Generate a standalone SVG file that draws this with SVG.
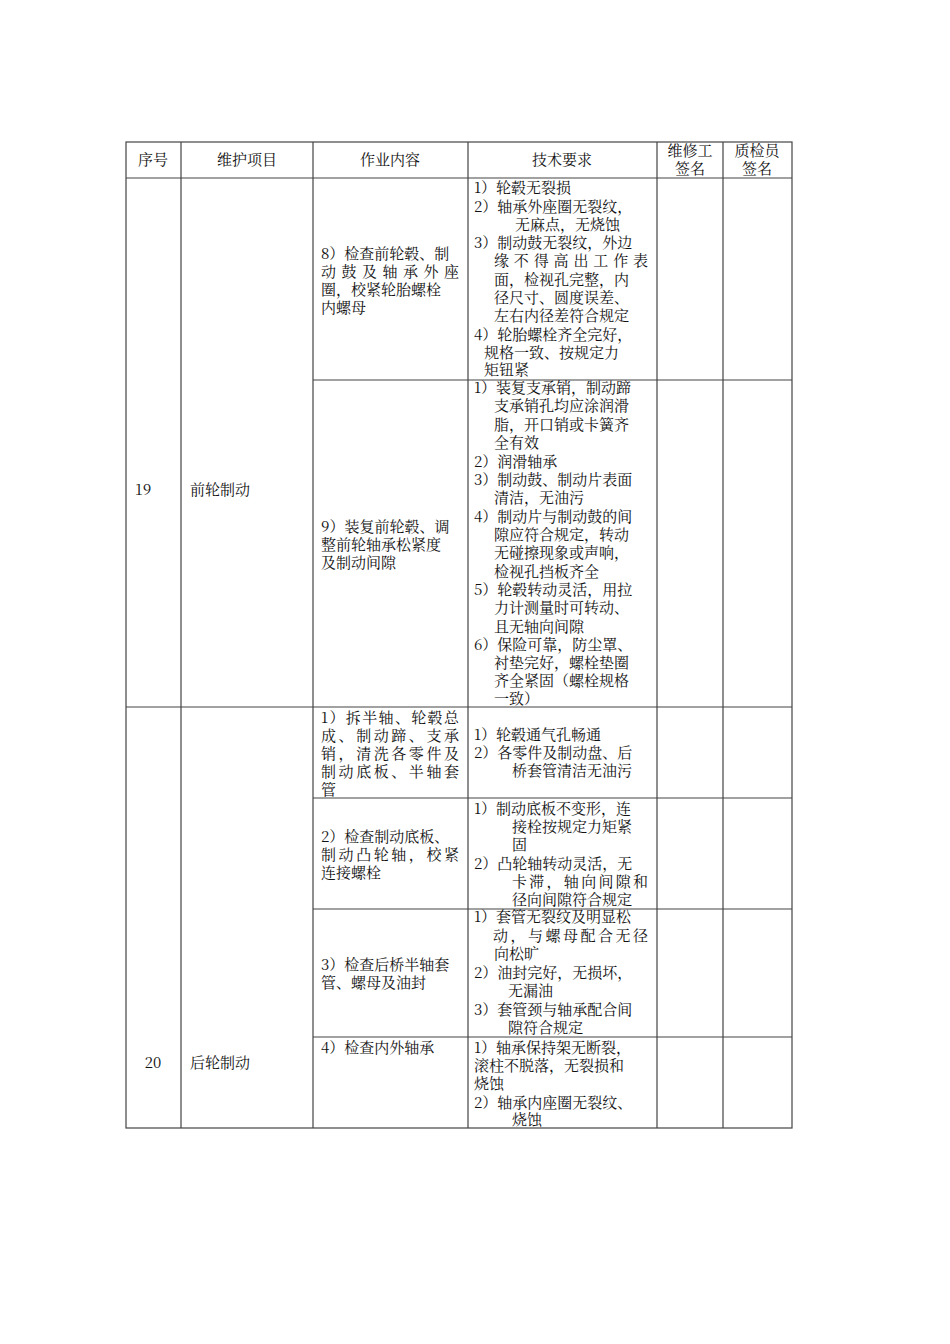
<svg xmlns="http://www.w3.org/2000/svg" width="950" height="1344" viewBox="0 0 950 1344">
<style>
text{font-family:"Noto Serif CJK SC","Noto Sans CJK SC","Liberation Serif",serif;font-size:15px;fill:#111}
.c{text-anchor:middle}
.ln{stroke:#444;stroke-width:1.2;fill:none}
</style>
<rect width="950" height="1344" fill="#fff"/>
<g id="grid" class="ln">
<rect x="126" y="142" width="666" height="986"/>
<path d="M126 178H792M313 380H792M126 707H792M313 798H792M313 909H792M313 1037H792"/>
<path d="M181 142V1128M313 142V1128M468 142V1128M657 142V1128M723 142V1128"/>
</g>
<g id="header">
<text class="c" x="153" y="165">序号</text>
<text class="c" x="247" y="165">维护项目</text>
<text class="c" x="390" y="165">作业内容</text>
<text class="c" x="562" y="165">技术要求</text>
<text class="c" x="690" y="156">维修工</text><text class="c" x="690" y="174">签名</text>
<text class="c" x="757" y="156">质检员</text><text class="c" x="757" y="174">签名</text>
</g>
<g id="row19">
<text class="c" x="143" y="495">19</text>
<text x="190" y="495">前轮制动</text>
<text x="321" y="259">8）检查前轮毂、制</text>
<text x="321" y="277" textLength="138" lengthAdjust="spacing">动鼓及轴承外座</text>
<text x="321" y="295">圈，校紧轮胎螺栓</text>
<text x="321" y="313">内螺母</text>
<text x="474" y="193">1）轮毂无裂损</text>
<text x="474" y="212">2）轴承外座圈无裂纹，</text>
<text x="515" y="230">无麻点，无烧蚀</text>
<text x="474" y="248">3）制动鼓无裂纹，外边</text>
<text x="494" y="266" textLength="154" lengthAdjust="spacing">缘不得高出工作表</text>
<text x="494" y="285">面，检视孔完整，内</text>
<text x="494" y="303">径尺寸、圆度误差、</text>
<text x="494" y="321">左右内径差符合规定</text>
<text x="474" y="340">4）轮胎螺栓齐全完好，</text>
<text x="484" y="358">规格一致、按规定力</text>
<text x="484" y="375">矩钮紧</text>
<text x="321" y="532">9）装复前轮毂、调</text>
<text x="321" y="550">整前轮轴承松紧度</text>
<text x="321" y="568">及制动间隙</text>
<text x="474" y="393">1）装复支承销，制动蹄</text>
<text x="494" y="411">支承销孔均应涂润滑</text>
<text x="494" y="430">脂，开口销或卡簧齐</text>
<text x="494" y="448">全有效</text>
<text x="474" y="467">2）润滑轴承</text>
<text x="474" y="485">3）制动鼓、制动片表面</text>
<text x="494" y="503">清洁，无油污</text>
<text x="474" y="522">4）制动片与制动鼓的间</text>
<text x="494" y="540">隙应符合规定，转动</text>
<text x="494" y="558">无碰擦现象或声响，</text>
<text x="494" y="577">检视孔挡板齐全</text>
<text x="474" y="595">5）轮毂转动灵活，用拉</text>
<text x="494" y="613">力计测量时可转动、</text>
<text x="494" y="632">且无轴向间隙</text>
<text x="474" y="650">6）保险可靠，防尘罩、</text>
<text x="494" y="668">衬垫完好，螺栓垫圈</text>
<text x="494" y="686">齐全紧固（螺栓规格</text>
<text x="494" y="704">一致）</text>
</g>
<g id="row20">
<text class="c" x="153" y="1068">20</text>
<text x="190" y="1068">后轮制动</text>
<text x="321" y="723" textLength="138" lengthAdjust="spacing">1）拆半轴、轮毂总</text>
<text x="321" y="741" textLength="138" lengthAdjust="spacing">成、制动蹄、支承</text>
<text x="321" y="759" textLength="138" lengthAdjust="spacing">销，清洗各零件及</text>
<text x="321" y="777" textLength="138" lengthAdjust="spacing">制动底板、半轴套</text>
<text x="321" y="795">管</text>
<text x="474" y="740">1）轮毂通气孔畅通</text>
<text x="474" y="758">2）各零件及制动盘、后</text>
<text x="512" y="776">桥套管清洁无油污</text>
<text x="321" y="842">2）检查制动底板、</text>
<text x="321" y="860" textLength="138" lengthAdjust="spacing">制动凸轮轴，校紧</text>
<text x="321" y="878">连接螺栓</text>
<text x="474" y="814">1）制动底板不变形，连</text>
<text x="512" y="832">接栓按规定力矩紧</text>
<text x="512" y="850">固</text>
<text x="474" y="869">2）凸轮轴转动灵活，无</text>
<text x="512" y="887" textLength="136" lengthAdjust="spacing">卡滞，轴向间隙和</text>
<text x="512" y="905">径向间隙符合规定</text>
<text x="321" y="970">3）检查后桥半轴套</text>
<text x="321" y="988">管、螺母及油封</text>
<text x="474" y="922">1）套管无裂纹及明显松</text>
<text x="493" y="941" textLength="155" lengthAdjust="spacing">动，与螺母配合无径</text>
<text x="494" y="959">向松旷</text>
<text x="474" y="978">2）油封完好，无损坏，</text>
<text x="508" y="996">无漏油</text>
<text x="474" y="1015">3）套管颈与轴承配合间</text>
<text x="508" y="1033">隙符合规定</text>
<text x="321" y="1053">4）检查内外轴承</text>
<text x="474" y="1053">1）轴承保持架无断裂，</text>
<text x="474" y="1071">滚柱不脱落，无裂损和</text>
<text x="474" y="1089">烧蚀</text>
<text x="474" y="1108">2）轴承内座圈无裂纹、</text>
<text x="512" y="1125">烧蚀</text>
</g>
</svg>
